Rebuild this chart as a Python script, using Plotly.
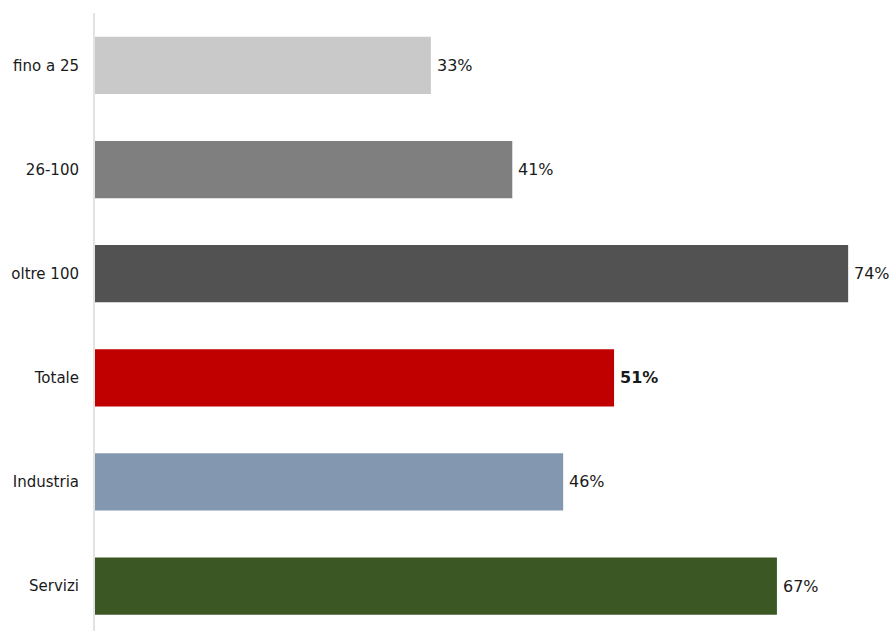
import plotly.graph_objects as go

categories = ["fino a 25", "26-100", "oltre 100", "Totale", "Industria", "Servizi"]
values = [33, 41, 74, 51, 46, 67]
colors = ["#C9C9C9", "#7F7F7F", "#525252", "#C00000", "#8497B0", "#3B5724"]
bold_category = "Totale"

FONT = "DejaVu Sans"

fig = go.Figure(
    go.Bar(
        x=values,
        y=categories,
        orientation="h",
        marker=dict(color=colors, line=dict(width=0)),
        width=0.55,
        hoverinfo="skip",
    )
)

# value labels just past the end of each bar
for cat, val in zip(categories, values):
    label = f"{val}%"
    if cat == bold_category:
        label = f"<b>{label}</b>"
    fig.add_annotation(
        x=val, y=cat, text=label, showarrow=False,
        xanchor="left", yanchor="middle", xshift=4,
        font=dict(family=FONT, size=16, color="#1a1a1a"),
    )

fig.update_layout(
    width=896, height=631,
    margin=dict(l=95, r=0, t=13, b=0),
    paper_bgcolor="white", plot_bgcolor="white",
    showlegend=False,
    font=dict(family=FONT, size=15, color="#1a1a1a"),
)
fig.update_xaxes(range=[0, 78.7], visible=False, fixedrange=True)
fig.update_yaxes(
    type="category",
    categoryorder="array", categoryarray=categories,
    range=[5.432, -0.504],
    showline=True, linecolor="#E3E3E3", linewidth=2,
    showgrid=False, zeroline=False, ticks="",
    ticklabelstandoff=11,
    tickfont=dict(family=FONT, size=15, color="#1a1a1a"),
    fixedrange=True,
)

fig.write_html("out.html")
